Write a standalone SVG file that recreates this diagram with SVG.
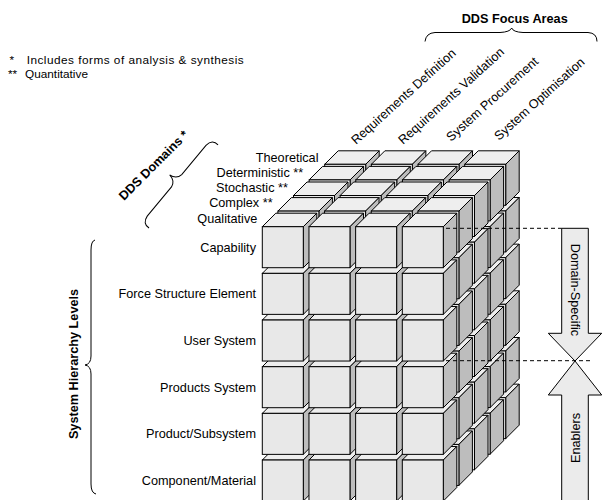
<svg xmlns="http://www.w3.org/2000/svg" xmlns:xlink="http://www.w3.org/1999/xlink" width="603" height="500" viewBox="0 0 603 500">
<style>
text{font-family:"Liberation Sans",Arial,sans-serif;font-size:12.7px;fill:#000}
.b{font-weight:bold}
.fn{font-size:11.8px}
.fr{fill:#e8e8e8;stroke:#000;stroke-width:1}
.tp{fill:#eeeeee;stroke:#000;stroke-width:1}
.sd{fill:#bdbdbd;stroke:#000;stroke-width:1}
.br{fill:none;stroke:#000;stroke-width:1}
.dash{fill:none;stroke:#000;stroke-width:1;stroke-dasharray:4 3}
.arr{fill:#ebebeb;stroke:#000;stroke-width:1}
</style>
<defs>
<g id="c">
<polygon class="tp" points="0,0 13.5,-13.5 54.5,-13.5 41,0"/>
<polygon class="sd" points="41,0 54.5,-13.5 54.5,27.5 41,41"/>
<rect class="fr" x="0" y="0" width="41" height="41"/>
</g>
<g id="row"><use href="#c"/><use href="#c" x="46.67"/><use href="#c" x="93.33"/><use href="#c" x="140"/></g>
<g id="layer"><use href="#row" y="233.33"/><use href="#row" y="186.67"/><use href="#row" y="140"/><use href="#row" y="93.33"/><use href="#row" y="46.67"/><use href="#row"/></g>
</defs>
<rect width="603" height="500" fill="#fff"/>

<g id="footnotes">
<text class="fn" y="64"><tspan x="9.5">*</tspan><tspan x="26.7" textLength="217" lengthAdjust="spacing">Includes forms of analysis &amp; synthesis</tspan></text>
<text class="fn" y="77.5"><tspan x="8">**</tspan> <tspan x="25">Quantitative</tspan></text>
</g>

<g id="cube-grid">
<use href="#layer" transform="translate(324.7,164.3)"/>
<use href="#layer" transform="translate(309.1,179.9)"/>
<use href="#layer" transform="translate(293.5,195.5)"/>
<use href="#layer" transform="translate(277.9,211.1)"/>
<use href="#layer" transform="translate(262.3,226.7)"/>
</g>

<g id="focus-areas">
<text class="b" x="461.7" y="23">DDS Focus Areas</text>
<path class="br" d="M425,41.5 Q426,33 435,32.5 L500,32.5 Q510,32 511.7,28 Q513,32 523,32.5 L588,32.5 Q597,33 597,41.5"/>
<text transform="translate(356,145) rotate(-42)">Requirements Definition</text>
<text transform="translate(403,145) rotate(-42)">Requirements Validation</text>
<text transform="translate(451,142) rotate(-42)">System Procurement</text>
<text transform="translate(499,141) rotate(-42)">System Optimisation</text>
</g>

<g id="domains">
<text class="b" transform="translate(124,201) rotate(-45)">DDS Domains *</text>
<path class="br" transform="translate(211.1,139.2) rotate(39.7)" d="M9,0 Q1,-1 0,8 L0,46 Q-1,53 -9,54 Q-1,55 0,62 L0,100 Q1,109 9,108"/>
<g text-anchor="end">
<text x="318.5" y="161.5">Theoretical</text>
<text x="303.2" y="176.8">Deterministic **</text>
<text x="287.9" y="192.1">Stochastic **</text>
<text x="272.6" y="207.4">Complex **</text>
<text x="257.3" y="222.7">Qualitative</text>
</g>
</g>

<g id="hierarchy">
<text class="b" text-anchor="middle" transform="translate(77.5,364) rotate(-90)">System Hierarchy Levels</text>
<path class="br" d="M95,240 Q91,241 91,250 L91,356 Q91,364 85,365 Q91,366 91,374 L91,484 Q91,493 96,494"/>
<g text-anchor="end">
<text x="256" y="251.7">Capability</text>
<text x="256" y="298.3">Force Structure Element</text>
<text x="256" y="345">User System</text>
<text x="256" y="391.7">Products System</text>
<text x="256" y="438.3">Product/Subsystem</text>
<text x="256" y="485">Component/Material</text>
</g>
</g>

<g id="domain-specific">
<polygon class="arr" points="561.7,228.3 588.3,228.3 588.3,333.3 601.7,333.3 575,361 548.3,333.3 561.7,333.3"/>
<text text-anchor="middle" transform="translate(571,290) rotate(90)">Domain-Specific</text>
</g>
<g id="enablers">
<polygon class="arr" points="575,361 601.7,395 588.3,395 588.3,505 561.7,505 561.7,395 548.3,395"/>
<text text-anchor="middle" transform="translate(579.5,438) rotate(-90)">Enablers</text>
</g>

<g id="connectors">
<path class="dash" d="M446,228.3 H561.7"/>
<path class="dash" d="M446,360.7 H590"/>
</g>
</svg>
